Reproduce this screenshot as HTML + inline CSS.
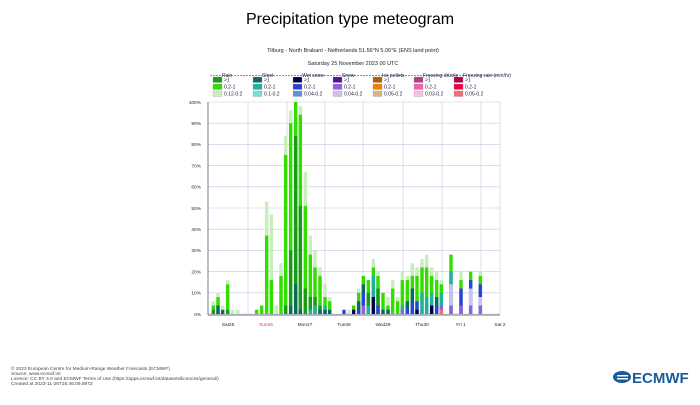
<!DOCTYPE html>
<html><head><meta charset="utf-8"><style>
body{margin:0;background:#fff;width:700px;height:400px;overflow:hidden;font-family:"Liberation Sans",sans-serif}
</style></head><body>
<svg id="s" width="700" height="400" xmlns="http://www.w3.org/2000/svg" font-family="Liberation Sans, sans-serif">
<text x="350" y="24" font-size="16" text-anchor="middle" fill="#000">Precipitation type meteogram</text>
<text x="353" y="52" font-size="5.5" text-anchor="middle" fill="#223">Tilburg - North Brabant - Netherlands 51.56°N 5.06°E (ENS land point)</text>
<text x="353" y="65" font-size="5.5" text-anchor="middle" fill="#223">Saturday 25 November 2023 00 UTC</text>
<g id="leg" font-size="5" fill="#224"></g>
<g id="grid"></g>
<g id="bars"></g>
<g id="axes"></g>
<g font-size="4.8" fill="#444">
<text x="11" y="370">© 2023 European Centre for Medium-Range Weather Forecasts (ECMWF)</text>
<text x="11" y="375">Source: www.ecmwf.int</text>
<text x="11" y="380">Licence: CC BY 4.0 and ECMWF Terms of Use (https://apps.ecmwf.int/datasets/licences/general/)</text>
<text x="11" y="385">Created at 2023-11-26T16:46:09.897Z</text>
</g>
<g fill="#1a5a9a"><ellipse cx="622" cy="377" rx="9" ry="6"/><rect x="617" y="375" width="11" height="1.5" fill="#fff"/><rect x="617" y="378" width="11" height="1.5" fill="#fff"/>
<text x="632" y="383" font-size="15" font-weight="bold" fill="#1a5a9a">ECMWF</text></g>
</svg>
<script>
const NS="http://www.w3.org/2000/svg",s=document.getElementById('s');
function el(p,t,a,txt){const e=document.createElementNS(NS,t);for(const k in a)e.setAttribute(k,a[k]);if(txt)e.textContent=txt;document.getElementById(p).appendChild(e);return e;}
// legend
const cols=[["Rain",["#1a9a1a","#33dd00","#c8eec0"],["0.12-0.2"]],["Sleet",["#0a6a60","#20b0a0","#70e0d0"],["0.1-0.2"]],["Wet snow",["#000050","#3040e0","#6090e0"],["0.04-0.2"]],["Snow",["#5010a0","#9060e0","#d0c0f0"],["0.04-0.2"]],["Ice pellets",["#b06000","#f08000","#e0b080"],["0.05-0.2"]],["Freezing drizzle",["#b04080","#f060b0","#f8c0e0"],["0.03-0.2"]],["Freezing rain (mm/hr)",["#b00040","#f00040","#f07070"],["0.05-0.2"]]];
const lx=[213,253,293,333,373,414,454];
el('leg','line',{x1:210,y1:75.5,x2:497,y2:75.5,stroke:"#224","stroke-width":0.5,"stroke-dasharray":"2,1"});
cols.forEach((c,i)=>{const x=lx[i];const t=el('leg','text',{x:x+9,y:77},c[0]);t.setAttribute('fill','#224');
 const labs=[">1","0.2-1",c[2][0]];
 for(let j=0;j<3;j++){el('leg','rect',{x:x,y:77+j*7,width:9,height:5.5,fill:c[1][j],stroke:"#999","stroke-width":0.3});el('leg','text',{x:x+11,y:81.5+j*7},labs[j]);}
});
// grid
const X0=208,X1=500,Y0=314,YS=2.12;
for(let p=0;p<=100;p+=10){const y=Y0-p*YS;el('grid','line',{x1:X0,y1:y,x2:X1,y2:y,stroke:"#c8c8e0","stroke-width":0.6});el('axes','text',{x:X0-7,y:y+1.8,"font-size":4.8,"text-anchor":"end",fill:"#224"},p+"%");}
[248,287,325,363,403,442,481].forEach(x=>el('grid','line',{x1:x,y1:102,x2:x,y2:Y0,stroke:"#c8c8e0","stroke-width":0.6}));
el('grid','line',{x1:X1,y1:102,x2:X1,y2:Y0,stroke:"#c8c8e0","stroke-width":0.6});
el('axes','line',{x1:X0,y1:102,x2:X0,y2:Y0+1,stroke:"#446","stroke-width":0.7});
el('axes','line',{x1:X0,y1:Y0+1,x2:X1,y2:Y0+1,stroke:"#446","stroke-width":0.7});
[["Sat25",228,"#224"],["Sun26",266,"#e04040"],["Mon27",305,"#224"],["Tue28",344,"#224"],["Wed29",383,"#224"],["Thu30",422,"#224"],["Fri 1",461,"#224"],["Sat 2",500,"#224"]].forEach(d=>el('axes','text',{x:d[1],y:326,"font-size":4.8,"text-anchor":"middle",fill:d[2]},d[0]));
// bars: [xz, [[top%,color],...]] drawn from tallest to shortest
const L="#c8eec0",M="#33dd00",D="#1a9a1a",T="#0a6a60",ST="#20b0a0",B="#3040e0",N="#000050",P="#9060e0",LP="#d0c0f0",R="#f07070";
const data=[[100,[[6,L],[4,M],[2,D]]],[114,[[10,L],[8,M],[4,T]]],[128,[[4,L],[2,T]]],[143,[[16,L],[14,M],[2,D]]],[158,[[2,L]]],[173,[[2,L]]],
[230,[[2,M]]],[245,[[4,M]]],[260,[[53,L],[37,M]]],[274,[[47,L],[16,M]]],[289,[[4,L]]],[303,[[24,L],[18,M]]],[317,[[84,L],[75,M],[4,D]]],[332,[[96,L],[90,M],[30,D],[4,T]]],[347,[[100,M],[84,D],[14,T]]],[361,[[98,L],[94,M],[51,D],[2,T]]],[376,[[67,L],[51,M],[12,D]]],[391,[[37,L],[28,M],[8,D],[2,ST]]],[405,[[30,L],[22,M],[8,D],[4,ST]]],[420,[[22,L],[18,M],[4,D],[2,T]]],[435,[[14,L],[8,M],[4,ST],[2,T]]],[449,[[8,L],[6,M],[2,T]]],
[492,[[2,B]]],[507,[[2,L]]],[521,[[4,M],[2,N]]],[536,[[12,L],[10,M],[6,T],[2,B]]],[550,[[18,M],[14,T],[10,B],[4,P]]],[565,[[16,M],[10,D],[4,ST]]],[580,[[26,L],[22,M],[18,ST],[8,N]]],[594,[[20,L],[18,M],[12,D],[4,B]]],[609,[[10,M],[2,T]]],[624,[[8,L],[4,M],[2,T]]],[638,[[16,L],[12,M]]],[653,[[8,L],[6,M]]],[667,[[20,L],[16,M],[4,ST],[2,P]]],[682,[[18,L],[16,M],[6,T],[2,B]]],[697,[[24,L],[18,M],[12,T],[6,B]]],[711,[[22,L],[18,M],[6,B],[2,N]]],[726,[[26,L],[22,M],[10,ST]]],[740,[[28,L],[22,M],[8,ST]]],[755,[[22,L],[18,M],[10,ST],[4,N]]],[770,[[20,L],[16,M],[8,T],[4,B]]],[784,[[16,L],[14,M],[10,ST],[4,P],[2,R]]],[813,[[28,M],[20,ST],[14,LP],[4,P]]],[843,[[20,L],[16,M],[12,B],[4,P]]],[872,[[20,M],[16,B],[12,LP],[4,P]]],[901,[[20,L],[18,M],[14,B],[8,LP],[4,P]]]];
data.forEach(b=>{const x=180+b[0]/3-1.7;b[1].forEach(seg=>{const h=seg[0]*YS;el('bars','rect',{x:x,y:Y0-h,width:3.4,height:h,fill:seg[1]});});});
</script>
</body></html>
